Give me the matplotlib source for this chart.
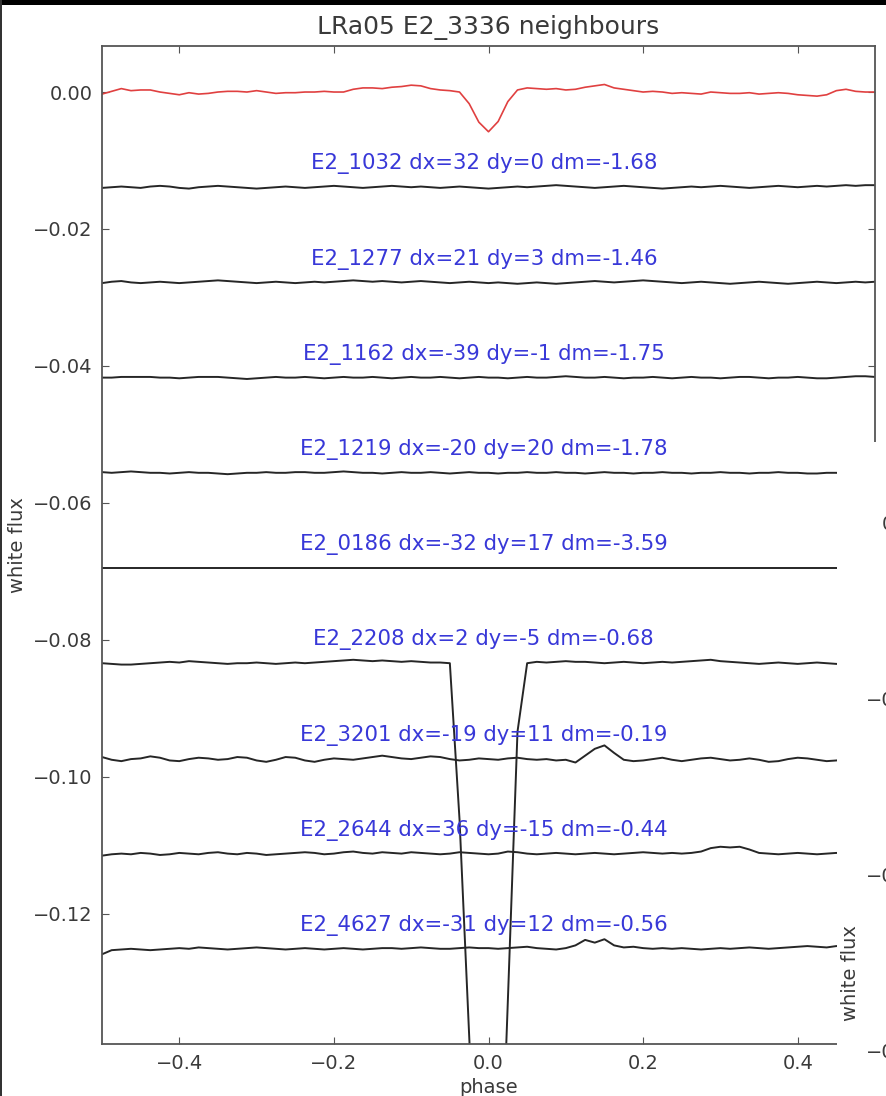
import numpy as np
import matplotlib.pyplot as plt
from matplotlib.patches import Rectangle
from matplotlib.ticker import MultipleLocator

# phase grid of the binned light curves
phase = np.linspace(-0.5, 0.5, 81)

# target light curve (units of 1e-4 in flux)
target = [-3, 1, 5, 2, 3, 3, 0, -2, -4, -1,
          -3, -2, 0, 1, 1, 0, 2, 0, -2, -1,
          -1, 0, 0, 1, 0, 0, 4, 6, 6, 5,
          7, 8, 10, 9, 5, 3, 2, 0, -17, -44,
          -58,
          -43, -14, 3, 6, 5, 4, 5, 3, 4,
          7, 9, 11, 6, 4, 2, 0, 1, 0, -2,
          -1, -2, -3, 0, -1, -2, -2, -1, -3, -2,
          -1, -2, -4, -5, -6, -4, 2, 4, 1, 0, 0]

names = ["E2_1032 dx=32 dy=0 dm=-1.68",
         "E2_1277 dx=21 dy=3 dm=-1.46",
         "E2_1162 dx=-39 dy=-1 dm=-1.75",
         "E2_1219 dx=-20 dy=20 dm=-1.78",
         "E2_0186 dx=-32 dy=17 dm=-3.59",
         "E2_2208 dx=2 dy=-5 dm=-0.68",
         "E2_3201 dx=-19 dy=11 dm=-0.19",
         "E2_2644 dx=36 dy=-15 dm=-0.44",
         "E2_4627 dx=-31 dy=12 dm=-0.56"]

offsets = [-0.0139, -0.0278, -0.0417, -0.0556, -0.0695,
           -0.0834, -0.0973, -0.1112, -0.1251]

# neighbour light curves (units of 1e-4, relative to their offset)
n1032 = [-1, 0, 1, 0, -1, 1, 2, 1, -1, -2, 0, 1, 2, 1, 0, -1, -2, -1, 0, 1,
         0, -1, 0, 1, 2, 1, 0, -1, 0, 1, 2, 1, 0, 1, 0, -1, 0, 1, 0, -1,
         -2, -1, 0, 1, 0, 1, 2, 3, 2, 1, 0, -1, 0, 1, 2, 1, 0, -1, -2, -1,
         0, 1, 0, 1, 2, 1, 0, -1, 0, 1, 2, 1, 0, 1, 2, 1, 2, 3, 2, 3, 3]
n1277 = [-1, 1, 2, 0, -1, 0, 1, 0, -1, 0, 1, 2, 3, 2, 1, 0, -1, 0, 1, 0,
         -1, 0, 1, 0, 1, 2, 3, 2, 1, 2, 1, 0, 1, 2, 1, 0, -1, 0, 1, 0,
         -1, 0, -1, -2, -1, 0, -1, -2, -1, 0, 1, 2, 1, 0, 1, 2, 3, 2, 1, 0,
         -1, 0, 1, 0, -1, -2, -1, 0, 1, 0, -1, -2, -1, 0, 1, 0, -1, 0, 1, 0, 1]
n1162 = [0, 0, 1, 1, 1, 1, 0, 0, -1, 0, 1, 1, 1, 0, -1, -2, -1, 0, 1, 0,
         0, 1, 0, -1, 0, 1, 0, 0, 1, 0, -1, 0, 1, 0, 0, 1, 0, -1, 0, 1,
         0, 0, -1, 0, 1, 0, 0, 1, 2, 1, 0, 0, 1, 0, -1, 0, 0, 1, 0, -1,
         0, 1, 0, 0, -1, 0, 1, 1, 0, -1, 0, 0, 1, 0, -1, -1, 0, 1, 2, 2, 1]
n1219 = [1, 0, 1, 2, 1, 0, 0, -1, 0, 1, 0, 0, -1, -2, -1, 0, 0, 1, 0, 0,
         1, 1, 0, 0, 1, 2, 1, 0, 0, -1, 0, 1, 0, 0, 1, 0, -1, 0, 1, 0,
         0, -1, 0, 0, 1, 0, 0, 1, 0, 0, -1, 0, 1, 0, 0, -1, 0, 0, 1, 0,
         0, -1, 0, 0, 1, 0, 0, -1, 0, 0, 1, 0, 0, -1, -1, 0, 0, -1, 0, 0, 0]
n0186 = [0, 0, 0, 0, 0, 0, 0, 0, 0, 0, 0, 0, 0, 0, 0, 0, 0, 0, 0, 0,
         0, 0, 0, 0, 0, 0, 0, 0, 0, 0, 0, 0, 0, 0, 0, 0, 0, 0, 0, 0,
         0, 0, 0, 0, 0, 0, 0, 0, 0, 0, 0, 0, 0, 0, 0, 0, 0, 0, 0, 0,
         0, 0, 0, 0, 0, 0, 0, 0, 0, 0, 0, 0, 0, 0, 0, 0, 0, 0, 0, 0, 0]
n2208 = [0, -1, -2, -2, -1, 0, 1, 2, 1, 3, 2, 1, 0, -1, 0, 0, 1, 0, -1, 0,
         1, 0, 1, 2, 3, 4, 5, 4, 3, 4, 3, 2, 3, 2, 1, 1,
         0, -228, -544, -860, -1200, -880, -494, -100,
         0, 2, 1, 2, 3, 2, 2, 1, 0, 1, 2, 1, 0, 1, 2, 1,
         2, 3, 4, 5, 3, 2, 1, 0, -1, 0, 1, 0, -1, 0, 1, 0, -1, -1, 0, 1, 0]
n3201 = [2, -2, -4, -1, 0, 3, 1, -3, -4, -1, 1, 0, -2, -1, 2, 1, -3, -5, -2, 2,
         1, -3, -5, -2, 0, -1, -2, 0, 2, 4, 2, 0, -1, 1, 3, 2, -1, -3, -2, 0,
         -1, -2, 0, 1, -1, -2, -1, -3, -2, -6, 4, 14, 19, 8, -2, -4, -3, -1, 1, -2,
         -4, -2, 0, 1, -1, -3, -2, 0, -2, -5, -4, -1, 1, 0, -2, -4, -3, -1, 0, -2, -3]
n2644 = [-3, -1, 0, -1, 1, 0, -2, -1, 1, 0, -1, 1, 2, 0, -1, 1, 0, -2, -1, 0,
         1, 2, 1, -1, 0, 2, 3, 1, 0, 2, 1, 0, 2, 1, 0, -1, 0, 2, 1, 0,
         -1, 0, 3, 2, 0, -1, 0, 1, 0, -1, 0, 1, 0, -1, 0, 1, 2, 1, 0, 1,
         0, 1, 3, 8, 10, 9, 10, 6, 1, 0, -1, 0, 1, 0, -1, 0, 1, 0, -1, -2, -1]
n4627 = [-8, -2, -1, 0, -1, -2, -1, 0, 1, 0, 2, 1, 0, -1, 0, 1, 2, 1, 0, -1,
         0, 1, 0, -1, 0, 1, 0, -1, 0, 1, 1, 0, 1, 2, 1, 0, 0, 1, 2, 1,
         1, 0, 1, 2, 3, 1, 0, -1, 1, 5, 13, 9, 14, 5, 2, 3, 1, 0, 1, 0,
         1, 0, -1, 0, 1, 0, 1, 2, 1, 0, 1, 2, 3, 4, 3, 2, 4, 3, 2, 2, 1]
neighbours = [n1032, n1277, n1162, n1219, n0186, n2208, n3201, n2644, n4627]

# ticks of the second (mostly hidden) panel on the right
right_ticks = [0.0, -0.02, -0.04, -0.06]

fig = plt.figure(figsize=(8.86, 10.96), dpi=100)
ax = fig.add_axes([102/886, 1 - 1044/1096, 773/886, 998/1096])

ax.plot(phase, np.array(target) * 1e-4, color='#e04040', lw=1.2)
for name, off, dev in zip(names, offsets, neighbours):
    ax.plot(phase, off + np.array(dev) * 1e-4, color='#262626', lw=1.4)
    ax.text(-0.006, off + 0.0034, name, color='#3838d8', fontsize=15.3,
            ha='center', va='center')

ax.set_xlim(-0.5, 0.5)
ax.set_ylim(-0.1390, 0.00672)
ax.set_xticks([-0.4, -0.2, 0.0, 0.2, 0.4])
ax.yaxis.set_major_locator(MultipleLocator(0.02))
ax.tick_params(direction='in', top=True, right=True, length=5,
               labelsize=14, labelcolor='#3a3a3a', color='#555555')
ax.tick_params(axis='y', pad=7)
ax.tick_params(axis='x', pad=7)
for s in ax.spines.values():
    s.set_color('#555555')
    s.set_linewidth(1.3)
ax.set_xlabel('phase', fontsize=14, color='#3a3a3a')
ax.set_ylabel('white flux', fontsize=14, color='#3a3a3a')
ax.set_title('LRa05 E2_3336 neighbours', fontsize=18, color='#3a3a3a', pad=9)

# white panel of the overlapping window on the right
fig.patches.append(Rectangle((837/886, 0), 49/886, 1 - 442/1096,
                             transform=fig.transFigure, facecolor='white',
                             edgecolor='none', zorder=1))
ax2 = fig.add_axes([932/886, 1 - 1080/1096, 400/886, 620/1096], zorder=2)
ax2.set_ylim(-0.0634, 0.00705)
ax2.set_yticks(right_ticks)
ax2.set_xticks([])
ax2.tick_params(direction='in', labelsize=14, labelcolor='#3a3a3a', pad=5)
fig.text(850/886, 1 - 973/1096, 'white flux', rotation=90, fontsize=14,
         color='#3a3a3a', ha='center', va='center', zorder=3)

# black frame of the screenshot
fig.patches.append(Rectangle((0, 1 - 5/1096), 1, 5/1096, transform=fig.transFigure,
                             facecolor='black', edgecolor='none', zorder=5))
fig.patches.append(Rectangle((0, 0), 2/886, 1, transform=fig.transFigure,
                             facecolor='#333333', edgecolor='none', zorder=5))

fig.savefig('out.png', dpi=100)
